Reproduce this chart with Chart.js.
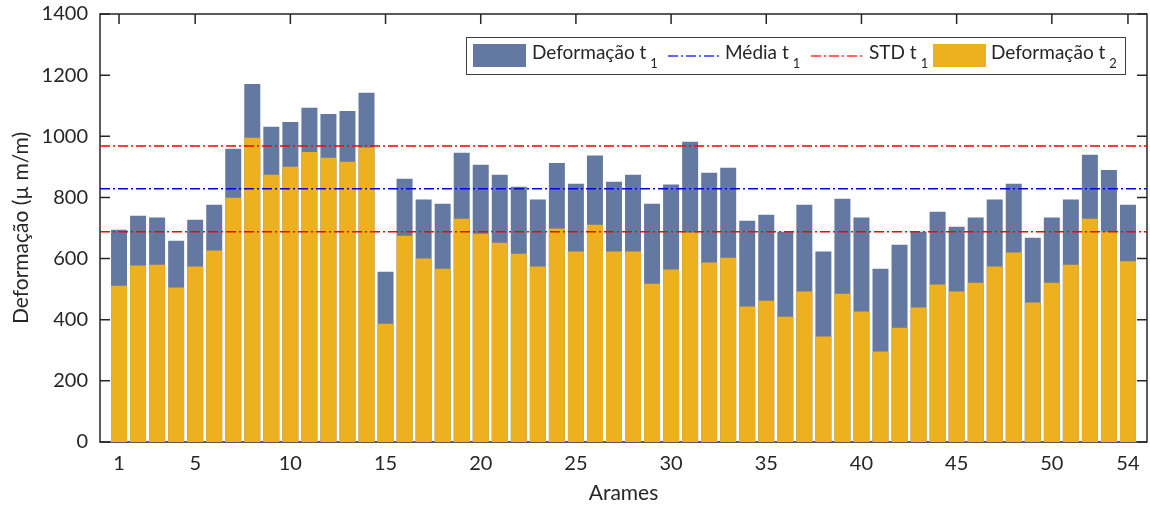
<!DOCTYPE html>
<html>
<head>
<meta charset="utf-8">
<script src="https://cdn.jsdelivr.net/npm/chart.js@4.4.1/dist/chart.umd.min.js"></script>
<style>
  html, body { margin: 0; padding: 0; background: #fff; }
  #wrap { position: relative; width: 1150px; height: 506px; }
</style>
</head>
<body>
<div id="wrap"><canvas id="chart" width="1150" height="506"></canvas></div>
<script>
// wire number on the x axis
const arames = [
  1, 2, 3, 4, 5, 6, 7, 8, 9, 10, 11, 12, 13, 14, 15, 16, 17, 18,
  19, 20, 21, 22, 23, 24, 25, 26, 27, 28, 29, 30, 31, 32, 33, 34, 35, 36,
  37, 38, 39, 40, 41, 42, 43, 44, 45, 46, 47, 48, 49, 50, 51, 52, 53, 54
];

// strain at t1 (µm/m)
const deformT1 = [
  694, 740, 734, 658, 727, 776, 959, 1171, 1031, 1047, 1093, 1073, 1083, 1142, 557, 861, 793, 779,
  946, 907, 874, 835, 793, 913, 845, 937, 851, 874, 779, 842, 982, 881, 897, 724, 743, 688,
  776, 623, 796, 734, 567, 645, 688, 753, 704, 734, 793, 845, 668, 734, 793, 940, 890, 776
];

// strain at t2 (µm/m)
const deformT2 = [
  511, 577, 580, 505, 574, 626, 799, 995, 874, 900, 949, 930, 917, 963, 387, 675, 600, 567,
  730, 681, 652, 616, 574, 698, 623, 711, 623, 623, 518, 564, 685, 587, 603, 443, 462, 410,
  492, 345, 485, 427, 296, 374, 440, 515, 492, 521, 574, 620, 456, 521, 580, 730, 688, 591
];

// mean and mean ± std of t1
const mediaT1 = 828;
const stdT1Upper = 968;
const stdT1Lower = 688;

const xTickValues = [1, 5, 10, 15, 20, 25, 30, 35, 40, 45, 50, 54];
const yTickStep = 200;
const yMax = 1400;

const BLUE = '#6479a2';
const YELLOW = '#edb120';
const INK = '#262626';
const FONT = 'Lato, "Open Sans", sans-serif';
const DASH_DOT = [10, 3, 2, 3];

function pts(values) {
  return arames.map((a, i) => ({ x: a, y: values[i] }));
}

function hline(value) {
  return [{ x: 0, y: value }, { x: 55, y: value }];
}

// box around the plot with inward ticks on every side
const frame = {
  id: 'frame',
  beforeDatasetsDraw(chart) {
    const { ctx, chartArea: a, scales: { x, y } } = chart;
    ctx.save();
    ctx.strokeStyle = INK;
    ctx.lineWidth = 1.5;
    ctx.strokeRect(a.left, a.top, a.right - a.left, a.bottom - a.top);
    ctx.beginPath();
    xTickValues.forEach(v => {
      const px = x.getPixelForValue(v);
      ctx.moveTo(px, a.top); ctx.lineTo(px, a.top + 10);
      ctx.moveTo(px, a.bottom); ctx.lineTo(px, a.bottom - 10);
    });
    y.ticks.forEach(t => {
      const py = y.getPixelForValue(t.value);
      ctx.moveTo(a.left, py); ctx.lineTo(a.left + 10, py);
      ctx.moveTo(a.right, py); ctx.lineTo(a.right - 10, py);
    });
    ctx.stroke();
    ctx.restore();
  }
};

// legend with subscripted labels
const legendBox = {
  id: 'legendBox',
  afterDraw(chart) {
    const ctx = chart.ctx;
    const top = 37, base = 59;
    ctx.save();
    ctx.fillStyle = '#fff';
    ctx.fillRect(466, top, 659, 37);
    ctx.strokeStyle = '#404040';
    ctx.lineWidth = 1;
    ctx.strokeRect(466.5, top + 0.5, 659, 37);

    const label = (x, main, sub) => {
      ctx.fillStyle = INK;
      ctx.textBaseline = 'alphabetic';
      ctx.font = '19px ' + FONT;
      ctx.fillText(main, x, base);
      const w = ctx.measureText(main).width;
      ctx.font = '13px ' + FONT;
      ctx.fillText(sub, x + w + 4, base + 8.5);
    };
    const swatch = (x, color) => {
      ctx.fillStyle = color;
      ctx.fillRect(x, 44, 53, 23);
    };
    const dash = (x, color) => {
      ctx.strokeStyle = color;
      ctx.lineWidth = 1.5;
      ctx.setLineDash(DASH_DOT);
      ctx.beginPath();
      ctx.moveTo(x, 56);
      ctx.lineTo(x + 52, 56);
      ctx.stroke();
      ctx.setLineDash([]);
    };

    swatch(473, BLUE);
    label(532, 'Deformação t', '1');
    dash(668, '#3333ff');
    label(725, 'Média t', '1');
    dash(811, '#ff3333');
    label(869, 'STD t', '1');
    swatch(933, YELLOW);
    label(991, 'Deformação t', '2');
    ctx.restore();
  }
};

const lineStyle = (color) => ({
  type: 'line',
  borderColor: color,
  borderWidth: 1.5,
  borderDash: DASH_DOT,
  pointRadius: 0,
  fill: false,
  order: 0
});

new Chart(document.getElementById('chart'), {
  type: 'bar',
  data: {
    datasets: [
      { ...lineStyle('#0000e6'), label: 'Média t1', data: hline(mediaT1) },
      { ...lineStyle('#ff0000'), label: 'STD t1', data: hline(stdT1Upper) },
      { ...lineStyle('#ff0000'), label: 'STD t1 (inferior)', data: hline(stdT1Lower) },
      {
        type: 'bar', label: 'Deformação t2', data: pts(deformT2),
        backgroundColor: YELLOW, borderWidth: 0, grouped: false,
        barPercentage: 0.84, categoryPercentage: 1, order: 1
      },
      {
        type: 'bar', label: 'Deformação t1', data: pts(deformT1),
        backgroundColor: BLUE, borderWidth: 0, grouped: false,
        barPercentage: 0.84, categoryPercentage: 1, order: 2
      }
    ]
  },
  options: {
    responsive: false,
    animation: false,
    devicePixelRatio: 1,
    layout: { padding: { top: 14, right: 3, left: 0, bottom: 0 } },
    plugins: { legend: { display: false }, tooltip: { enabled: false } },
    scales: {
      x: {
        type: 'linear',
        min: 0,
        max: 55,
        offset: false,
        grid: { display: false, drawTicks: false },
        border: { display: false },
        afterBuildTicks: (scale) => { scale.ticks = xTickValues.map(v => ({ value: v })); },
        afterFit: (scale) => { scale.height = 64; scale.paddingLeft = 0; scale.paddingRight = 0; },
        ticks: {
          color: INK,
          font: { family: FONT, size: 20 },
          padding: 10,
          maxRotation: 0,
          autoSkip: false,
          callback: (v) => String(v)
        },
        title: {
          display: true,
          text: 'Arames',
          color: INK,
          font: { family: FONT, size: 21 },
          padding: { top: 0, bottom: 0 }
        }
      },
      y: {
        min: 0,
        max: yMax,
        grid: { display: false, drawTicks: false },
        border: { display: false },
        afterFit: (scale) => { scale.width = 100; scale.paddingTop = 0; scale.paddingBottom = 0; },
        ticks: {
          stepSize: yTickStep,
          color: INK,
          font: { family: FONT, size: 20 },
          padding: 12,
          callback: (v) => String(v)
        },
        title: {
          display: true,
          text: 'Deformação (µ m/m)',
          color: INK,
          font: { family: FONT, size: 21 },
          padding: { top: 9, bottom: 0 }
        }
      }
    }
  },
  plugins: [frame, legendBox]
});
</script>
</body>
</html>
